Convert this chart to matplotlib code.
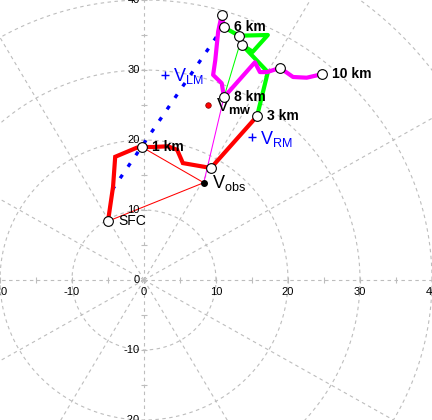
import numpy as np
import matplotlib
matplotlib.use("Agg")
import matplotlib.pyplot as plt

plt.rcParams["font.family"] = ["Liberation Sans", "DejaVu Sans"]
plt.rcParams["mathtext.fontset"] = "custom"
plt.rcParams["mathtext.rm"] = "Liberation Sans"
plt.rcParams["mathtext.bf"] = "Liberation Sans:bold"
plt.rcParams["lines.scale_dashes"] = False

# hodograph segments (u, v in kt)
u_0_3 = [-5.0, -4.3, -4.0, -1.0, -0.3, 1.25, 3.3, 4.6, 5.4, 8.75, 9.3, 15.7]
v_0_3 = [8.4, 13.3, 17.6, 18.9, 19.0, 19.0, 19.1, 18.6, 16.7, 16.1, 16.0, 23.4]
u_3_6 = [15.7, 17.2, 13.6, 15.1, 17.2, 13.2, 11.1]
v_3_6 = [23.4, 29.7, 33.6, 32.6, 35.0, 34.9, 36.1]
u_6_10 = [11.1, 10.8, 10.3, 9.9, 9.6, 10.8, 11.1, 15.4, 16.1, 17.1, 18.9, 20.7, 22.6, 24.7]
v_6_10 = [36.1, 37.9, 35.5, 31.4, 29.3, 28.1, 26.1, 31.1, 29.7, 29.7, 30.3, 29.0, 28.9, 29.4]

# height markers (SFC, 1..10 km)
u_hgt = [-5.0, -0.3, 9.3, 15.7, 13.6, 13.2, 11.1, 10.8, 11.1, 18.9, 24.7]
v_hgt = [8.4, 19.0, 16.0, 23.4, 33.6, 34.9, 36.1, 37.9, 26.1, 30.3, 29.4]
hgt_labels = {0: "SFC", 1: "1 km", 3: "3 km", 6: "6 km", 8: "8 km", 10: "10 km"}

v_obs = (8.3, 13.9)
v_mw = (8.9, 25.0)
v_rm = (15.0, 20.4)
v_lm = (2.85, 29.3)
lm_line_u = [-4.4, 11.3]
lm_line_v = [12.9, 36.6]
shear_u = [11.1, 13.4]
shear_v = [26.1, 34.0]

fig = plt.figure(figsize=(4.32, 4.20), dpi=100)
ax = fig.add_axes([0, 0, 1, 1])
ax.set_xlim(-20, 40)
ax.set_ylim(-20, 40)
ax.axis("off")

grid = "#bdbdbd"
th = np.linspace(0, 2 * np.pi, 400)
for r in [10, 20, 30, 40, 50]:
    ax.plot(r * np.cos(th), r * np.sin(th), color=grid, lw=0.8, dashes=(2.5, 2.5), zorder=1)
for a in np.arange(0, 360, 30):
    a = np.deg2rad(a)
    ax.plot([0, 60 * np.cos(a)], [0, 60 * np.sin(a)], color=grid, lw=0.8, dashes=(2.5, 2.5), zorder=1)

ticks = np.arange(-20, 41, 5)
ax.plot(ticks, np.zeros_like(ticks), ls="none", marker="|", ms=4, color=grid, mew=0.8)
ax.plot(np.zeros_like(ticks), ticks, ls="none", marker="_", ms=4, color=grid, mew=0.8)
for t in range(-20, 41, 10):
    ax.text(t, -1.0, str(t), ha="center", va="top", fontsize=8, zorder=6)
    ax.annotate(str(t), (0, t), xytext=(-3, 0), textcoords="offset points",
                ha="right", va="center", fontsize=8)

# thin guide lines
ax.plot([u_hgt[0], v_obs[0], u_hgt[1]], [v_hgt[0], v_obs[1], v_hgt[1]], color="red", lw=0.75, zorder=2)
ax.plot([v_obs[0], shear_u[0]], [v_obs[1], shear_v[0]], color="#ff00ff", lw=0.75, zorder=2)
ax.plot(shear_u, shear_v, color="#00ff00", lw=0.75, zorder=2)
ax.plot(lm_line_u, lm_line_v, color="blue", lw=2.4, dashes=(3, 7), zorder=2)

ax.plot(u_0_3, v_0_3, color="red", lw=3, zorder=3, solid_joinstyle="miter")
ax.plot(u_3_6, v_3_6, color="#00ff00", lw=3, zorder=3)
ax.plot(u_6_10, v_6_10, color="#ff00ff", lw=3, zorder=3)

ax.plot(u_hgt, v_hgt, ls="none", marker="o", ms=7, mfc="white", mec="black", mew=0.8, zorder=4)
for i, lab in hgt_labels.items():
    ax.annotate(lab, (u_hgt[i], v_hgt[i]), xytext=(7.5, 0), textcoords="offset points",
                ha="left", va="center", fontsize=10,
                fontweight="normal" if i == 0 else "bold")

ax.plot(*v_obs, marker="o", ms=4, color="black", zorder=5)
ax.annotate(r"V$_{\mathrm{obs}}$", v_obs, xytext=(6, 0), textcoords="offset points",
            ha="left", va="center", fontsize=13)
ax.plot(*v_mw, marker="o", ms=4, mfc="red", mec="#800000", mew=0.5, zorder=5)
ax.annotate(r"V$_{\mathbf{mw}}$", v_mw, xytext=(6, -1), textcoords="offset points",
            ha="left", va="center", fontsize=13)

for pt, sub in [(v_rm, "RM"), (v_lm, "LM")]:
    ax.plot(*pt, marker="+", ms=6, mew=1, color="blue", zorder=5)
    ax.annotate(r"V$_{\mathrm{" + sub + "}}$", pt, xytext=(6, -1), textcoords="offset points",
                ha="left", va="center", fontsize=13, color="blue")

fig.savefig("out.png", dpi=100, facecolor="white")
